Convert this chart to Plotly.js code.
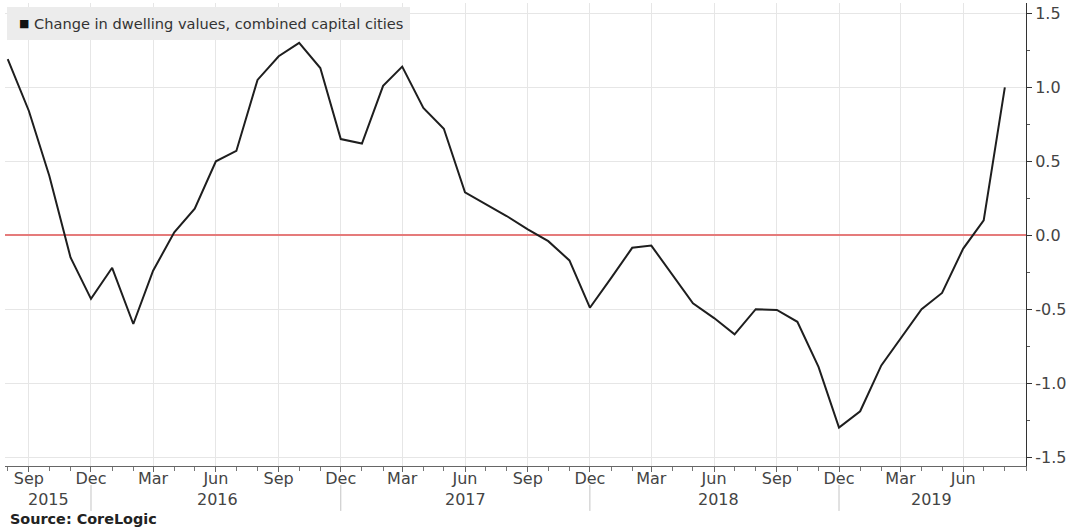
<!DOCTYPE html>
<html>
<head>
<meta charset="utf-8">
<script src="https://cdn.plot.ly/plotly-3.0.1.min.js"></script>
<style>
  html, body { margin: 0; padding: 0; background: #ffffff; }
  #chart { width: 1076px; height: 531px; }
</style>
</head>
<body>
<div id="chart"></div>
<script>
// Months (first day of each month), Aug 2015 - Aug 2019
const months = [
  '2015-08-01','2015-09-01','2015-10-01','2015-11-01','2015-12-01',
  '2016-01-01','2016-02-01','2016-03-01','2016-04-01','2016-05-01','2016-06-01',
  '2016-07-01','2016-08-01','2016-09-01','2016-10-01','2016-11-01','2016-12-01',
  '2017-01-01','2017-02-01','2017-03-01','2017-04-01','2017-05-01','2017-06-01',
  '2017-07-01','2017-08-01','2017-09-01','2017-10-01','2017-11-01','2017-12-01',
  '2018-01-01','2018-02-01','2018-03-01','2018-04-01','2018-05-01','2018-06-01',
  '2018-07-01','2018-08-01','2018-09-01','2018-10-01','2018-11-01','2018-12-01',
  '2019-01-01','2019-02-01','2019-03-01','2019-04-01','2019-05-01','2019-06-01',
  '2019-07-01','2019-08-01'
];

// Change in dwelling values, combined capital cities (%)
const dwellingChange = [
  1.19, 0.84, 0.40, -0.15, -0.43,
  -0.22, -0.60, -0.24, 0.02, 0.18, 0.50,
  0.57, 1.05, 1.21, 1.30, 1.13, 0.65,
  0.62, 1.01, 1.14, 0.86, 0.72, 0.29,
  0.21, 0.13, 0.04, -0.04, -0.17, -0.49,
  -0.29, -0.085, -0.07, -0.27, -0.46, -0.56,
  -0.67, -0.50, -0.505, -0.585, -0.89, -1.30,
  -1.19, -0.88, -0.70, -0.50, -0.39, -0.09,
  0.10, 1.00
];

// X tick positions and labels (quarterly)
const xTickVals = [
  '2015-09-01','2015-12-01','2016-03-01','2016-06-01','2016-09-01','2016-12-01',
  '2017-03-01','2017-06-01','2017-09-01','2017-12-01','2018-03-01','2018-06-01',
  '2018-09-01','2018-12-01','2019-03-01','2019-06-01'
];
const xTickText = [
  'Sep','Dec','Mar','Jun','Sep','Dec','Mar','Jun','Sep','Dec','Mar','Jun','Sep','Dec','Mar','Jun'
];

// Year labels below the month labels
const yearLabels = ['2015','2016','2017','2018','2019'];
const yearLabelPos = ['2015-09-30','2016-06-03','2017-06-02','2018-06-07','2019-04-16'];

// Year separators under the axis
const yearSeparators = ['2015-12-01','2016-12-01','2017-12-01','2018-12-01'];

// Y ticks
const yTickVals = [-1.5, -1.0, -0.5, 0.0, 0.5, 1.0, 1.5];
const yTickText = ['-1.5', '-1.0', '-0.5', '0.0', '0.5', '1.0', '1.5'];

const legendText = 'Change in dwelling values, combined capital cities';
const sourceText = '<b>Source: CoreLogic</b>';

const FONT = 'DejaVu Sans, Verdana, sans-serif';

const trace = {
  x: months,
  y: dwellingChange,
  type: 'scatter',
  mode: 'lines',
  line: { color: '#1e1e1e', width: 2 },
  hoverinfo: 'x+y',
  showlegend: false
};

const shapes = [
  // legend background box
  { type: 'rect', xref: 'paper', yref: 'paper',
    x0: 0.002, x1: 0.3967, y0: 0.9201, y1: 0.9914,
    fillcolor: '#ececec', line: { width: 0 }, layer: 'above' }
];
yearSeparators.forEach(d => {
  shapes.push({ type: 'line', xref: 'x', yref: 'paper',
    x0: d, x1: d, y0: -0.041, y1: -0.097,
    line: { color: '#c4c4c4', width: 1 } });
});

const annotations = [
  { xref: 'paper', yref: 'paper', x: 0.0115, y: 0.9557,
    xanchor: 'left', yanchor: 'middle', showarrow: false,
    text: '\u25A0', font: { family: FONT, size: 11, color: '#111' } },
  { xref: 'paper', yref: 'paper', x: 0.0264, y: 0.9557,
    xanchor: 'left', yanchor: 'middle', showarrow: false,
    text: legendText, font: { family: FONT, size: 14.6, color: '#333' } },
  { xref: 'paper', yref: 'paper', x: 0.003, y: -0.1145,
    xanchor: 'left', yanchor: 'middle', showarrow: false,
    text: sourceText, font: { family: FONT, size: 14.4, color: '#222' } }
];
yearLabels.forEach((t, i) => {
  annotations.push({ xref: 'x', yref: 'paper', x: yearLabelPos[i], y: -0.0713,
    xanchor: 'center', yanchor: 'middle', showarrow: false,
    text: t, font: { family: FONT, size: 16, color: '#444' } });
});

const layout = {
  width: 1076,
  height: 531,
  margin: { l: 5, r: 50, t: 3, b: 65 },
  paper_bgcolor: '#ffffff',
  plot_bgcolor: '#ffffff',
  font: { family: FONT, color: '#444' },
  showlegend: false,
  xaxis: {
    type: 'date',
    range: ['2015-07-28', '2019-09-01'],
    tickmode: 'array',
    tickvals: xTickVals,
    ticktext: xTickText,
    tickfont: { family: FONT, size: 16, color: '#444' },
    ticks: 'outside',
    ticklen: 5,
    tickcolor: '#666',
    ticklabelstandoff: -7,
    showline: true,
    linecolor: '#666',
    linewidth: 1,
    showgrid: true,
    gridcolor: '#e6e6e6',
    gridwidth: 1,
    zeroline: false,
    minor: { dtick: 'M1', tick0: '2015-08-01', ticks: 'outside', ticklen: 4, tickcolor: '#777', showgrid: false }
  },
  yaxis: {
    side: 'right',
    range: [-1.56, 1.57],
    tickmode: 'array',
    tickvals: yTickVals,
    ticktext: yTickText,
    tickfont: { family: FONT, size: 16, color: '#444' },
    ticks: 'outside',
    ticklen: 5,
    tickcolor: '#333',
    showline: true,
    linecolor: '#333',
    linewidth: 1,
    showgrid: true,
    gridcolor: '#e6e6e6',
    gridwidth: 1,
    zeroline: true,
    zerolinecolor: '#e57b7b',
    zerolinewidth: 2,
    minor: { dtick: 0.25, tick0: 0, ticks: 'outside', ticklen: 3, tickcolor: '#555', showgrid: false }
  },
  shapes: shapes,
  annotations: annotations
};

Plotly.newPlot('chart', [trace], layout, { displayModeBar: false, staticPlot: true });
</script>
</body>
</html>
